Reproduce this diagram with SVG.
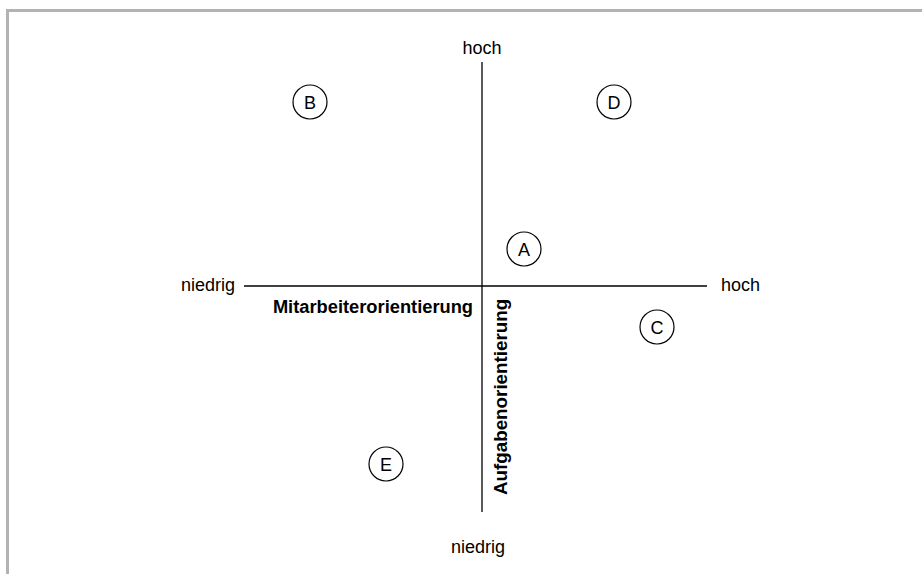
<svg xmlns="http://www.w3.org/2000/svg" width="922" height="574" viewBox="0 0 922 574">
  <style>
    .lbl { font-family: "Liberation Sans", Arial, sans-serif; font-size: 18px; fill: #000; }
    .bold { font-weight: bold; font-size: 18.3px; }
    .axis { stroke: #000; stroke-width: 1.3; fill: none; }
    .node circle { fill: #fff; stroke: #000; stroke-width: 1.2; }
    .node text { font-family: "Liberation Sans", Arial, sans-serif; font-size: 18px; text-anchor: middle; fill: #000; }
  </style>
  <rect width="922" height="574" fill="#fff"/>
  <!-- frame: top and left edges -->
  <path d="M7.5 574 V10.5 H922" fill="none" stroke="#b3b3b3" stroke-width="3"/>

  <!-- axes -->
  <g id="connectors">
    <line class="axis" x1="244" y1="286" x2="707" y2="286"/>
    <line class="axis" x1="482" y1="62" x2="482" y2="512"/>
  </g>

  <!-- axis labels -->
  <g id="axis-labels">
    <text class="lbl" x="482" y="54" text-anchor="middle">hoch</text>
    <text class="lbl" x="478" y="553" text-anchor="middle">niedrig</text>
    <text class="lbl" x="235" y="291" text-anchor="end">niedrig</text>
    <text class="lbl" x="721" y="291">hoch</text>
    <text class="lbl bold" x="473" y="313" text-anchor="end">Mitarbeiterorientierung</text>
    <text class="lbl bold" style="font-size:18.8px" transform="translate(506.5 495) rotate(-90)">Aufgabenorientierung</text>
  </g>

  <!-- style positions -->
  <g id="node-B" class="node"><circle cx="310" cy="102" r="17"/><text x="310" y="108.5">B</text></g>
  <g id="node-D" class="node"><circle cx="614" cy="102" r="17"/><text x="614" y="108.5">D</text></g>
  <g id="node-A" class="node"><circle cx="524" cy="249" r="17"/><text x="524" y="255.5">A</text></g>
  <g id="node-C" class="node"><circle cx="657" cy="327" r="17"/><text x="657" y="333.5">C</text></g>
  <g id="node-E" class="node"><circle cx="386" cy="464" r="17"/><text x="386" y="470.5">E</text></g>
</svg>
